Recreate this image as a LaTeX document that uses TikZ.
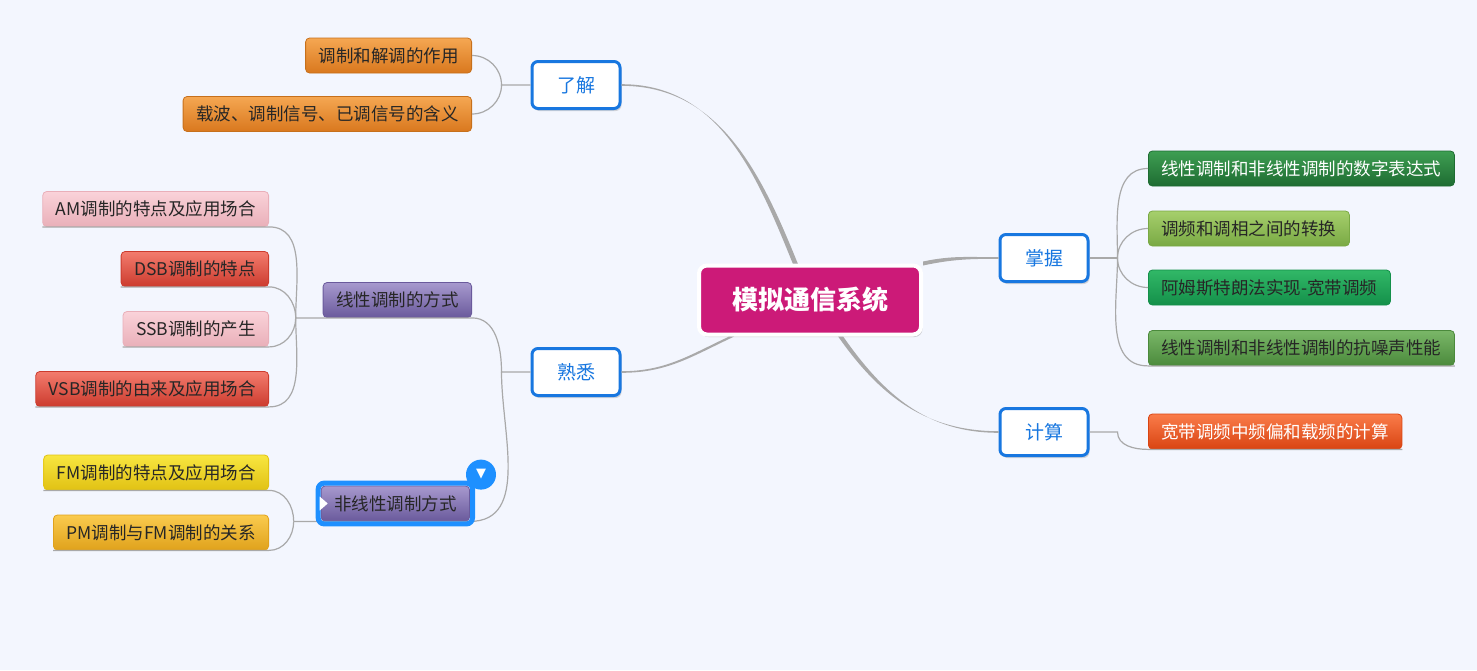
\documentclass[tikz,border=0pt]{standalone}
\usepackage{fontspec}
\newfontfamily\cjk{Noto Sans CJK SC}
\newfontfamily\symfont{DejaVu Sans}
\usetikzlibrary{shadows,fit}

\definecolor{bgcol}{HTML}{F3F6FE}
\definecolor{linkcol}{HTML}{A9A9A9}
\definecolor{topicblue}{HTML}{1877E0}
\definecolor{selblue}{HTML}{1E90FF}
\definecolor{rootcol}{HTML}{CC1A78}
\definecolor{orTop}{HTML}{F5A752}\definecolor{orBot}{HTML}{D9781E}\definecolor{orLine}{HTML}{C6701C}
\definecolor{pkTop}{HTML}{FAD3D9}\definecolor{pkBot}{HTML}{E9AFB9}
\definecolor{rdTop}{HTML}{F37C6E}\definecolor{rdBot}{HTML}{CC3B2E}
\definecolor{puTop}{HTML}{A799CE}\definecolor{puBot}{HTML}{6A5A9C}
\definecolor{yeTop}{HTML}{F8E640}\definecolor{yeBot}{HTML}{E1C214}
\definecolor{goTop}{HTML}{FACB4E}\definecolor{goBot}{HTML}{E0A21C}
\definecolor{dgTop}{HTML}{3E9E52}\definecolor{dgBot}{HTML}{1E6C32}
\definecolor{lgTop}{HTML}{A6CF6C}\definecolor{lgBot}{HTML}{79A944}
\definecolor{gnTop}{HTML}{31B867}\definecolor{gnBot}{HTML}{14904A}
\definecolor{mgTop}{HTML}{7AB768}\definecolor{mgBot}{HTML}{4B8A3C}
\definecolor{orRTop}{HTML}{FA7C4A}\definecolor{orRBot}{HTML}{D94412}

\tikzset{
  rootbox/.style={rounded corners=8pt, fill=rootcol, draw=white, line width=4pt,
    minimum width=222pt, minimum height=69pt, text=white,
    font=\cjk\bfseries\fontsize{26}{30}\selectfont,
    drop shadow={shadow xshift=1.5pt, shadow yshift=-2.5pt, opacity=0.35}},
  topic/.style={rounded corners=6pt, fill=white, draw=topicblue, line width=3pt,
    minimum width=88pt, minimum height=47pt, text=topicblue,
    font=\cjk\fontsize{19}{22}\selectfont,
    drop shadow={shadow xshift=1.5pt, shadow yshift=-2.5pt, opacity=0.3}},
  leaf/.style={rounded corners=4pt, minimum height=35pt, inner xsep=13pt, inner ysep=0pt,
    text=black!85, line width=0.8pt, font=\cjk\fontsize{17.5}{20}\selectfont},
  orange/.style={leaf, top color=orTop, bottom color=orBot, draw=orLine},
  pink/.style={leaf, top color=pkTop, bottom color=pkBot, draw=pkBot},
  red/.style={leaf, top color=rdTop, bottom color=rdBot, draw=rdBot},
  purple/.style={leaf, top color=puTop, bottom color=puBot, draw=puBot},
  yellow/.style={leaf, top color=yeTop, bottom color=yeBot, draw=yeBot},
  gold/.style={leaf, top color=goTop, bottom color=goBot, draw=goBot},
  dkgreen/.style={leaf, top color=dgTop, bottom color=dgBot, draw=dgBot, text=white},
  ltgreen/.style={leaf, top color=lgTop, bottom color=lgBot, draw=lgBot},
  green/.style={leaf, top color=gnTop, bottom color=gnBot, draw=gnBot},
  midgreen/.style={leaf, top color=mgTop, bottom color=mgBot, draw=mgBot},
  orangered/.style={leaf, top color=orRTop, bottom color=orRBot, draw=orRBot, text=white},
  trunk/.style={fill=linkcol},
  link/.style={draw=linkcol, line width=1.2pt},
  selring/.style={draw=selblue, line width=5pt, rounded corners=6pt, inner sep=2.5pt},
  togglebtn/.style={circle, fill=selblue, minimum size=30pt, inner sep=0pt, text=white,
    font=\symfont\fontsize{13}{13}\selectfont}
}

\begin{document}
\begin{tikzpicture}[x=1pt, y=1pt]
  \fill[bgcol] (0,0) rectangle (1477,-670);
  \useasboundingbox (0,0) rectangle (1477,-670);

  % centre and topics
  \node[rootbox] (root) at (810,-300) {模拟通信系统};
  \node[topic] (liaojie) at (576,-85) {了解};
  \node[topic] (shuxi) at (576,-372) {熟悉};
  \node[topic] (zhangwo) at (1044,-258) {掌握};
  \node[topic] (jisuan) at (1044,-432) {计算};

  % left leaves
  \node[orange, anchor=east] (zuoyong) at (472,-55.5) {调制和解调的作用};
  \node[orange, anchor=east] (hanyi) at (472,-114) {载波、调制信号、已调信号的含义};
  \node[purple, anchor=east] (xianxing) at (472,-300) {线性调制的方式};
  \node[purple, anchor=east, minimum width=143pt] (feixian) at (470,-503.5) {非线性调制方式};
  \node[pink, anchor=east] (am) at (269,-209) {AM调制的特点及应用场合};
  \node[red, anchor=east] (dsb) at (269,-269) {DSB调制的特点};
  \node[pink, anchor=east] (ssb) at (269,-329) {SSB调制的产生};
  \node[red, anchor=east] (vsb) at (269,-389) {VSB调制的由来及应用场合};
  \node[yellow, anchor=east] (fm) at (269,-472.5) {FM调制的特点及应用场合};
  \node[gold, anchor=east] (pm) at (269,-532.5) {PM调制与FM调制的关系};

  % right leaves
  \node[dkgreen, anchor=west] (biaoda) at (1148,-168.5) {线性调制和非线性调制的数字表达式};
  \node[ltgreen, anchor=west] (zhuanhuan) at (1148,-228.5) {调频和调相之间的转换};
  \node[green, anchor=west] (amstl) at (1148,-287.5) {阿姆斯特朗法实现-宽带调频};
  \node[midgreen, anchor=west] (kangzao) at (1148,-348) {线性调制和非线性调制的抗噪声性能};
  \node[orangered, anchor=west] (jsleaf) at (1148,-431.5) {宽带调频中频偏和载频的计算};

  % main branches, thick at the centre and thin at the topic
  \fill[trunk] ([xshift=-2.5pt]root.112) to[out=112,in=0] ([yshift=0.8pt]liaojie.east)
    -- ([yshift=-0.8pt]liaojie.east) to[out=0,in=112] ([xshift=2.5pt]root.112) -- cycle;
  \fill[trunk] ([xshift=-2.5pt]root.205) to[out=205,in=0] ([yshift=0.8pt]shuxi.east)
    -- ([yshift=-0.8pt]shuxi.east) to[out=0,in=205] ([xshift=2.5pt]root.205) -- cycle;
  \fill[trunk] ([yshift=2pt]root.north east) to[out=12,in=180] ([yshift=0.8pt]zhangwo.west)
    -- ([yshift=-0.8pt]zhangwo.west) to[out=180,in=12] ([yshift=-2pt]root.north east) -- cycle;
  \fill[trunk] ([xshift=-2.5pt]root.-50) to[out=-55,in=180] ([yshift=0.8pt]jisuan.west)
    -- ([yshift=-0.8pt]jisuan.west) to[out=180,in=-55] ([xshift=2.5pt]root.-50) -- cycle;

  % sub branches
  \draw[link] (liaojie.west) -- ++(-29,0) coordinate (lj) to[out=90,in=0] (zuoyong.east);
  \draw[link] (lj) to[out=-90,in=0] (hanyi.east);
  \draw[link] (shuxi.west) -- ++(-29,0) coordinate (sx)
    to[out=90,in=0] (xianxing.south east) -- (xianxing.south west) -- ++(-27,0) coordinate (xx);
  \draw[link] (sx) to[out=-90,in=0] (feixian.south east) -- (feixian.south west) -- ++(-27,0) coordinate (fx);
  \foreach \n/\a in {am/90,dsb/90,ssb/-90,vsb/-90}
    \draw[link] (xx) to[out=\a,in=0] (\n.south east) -- (\n.south west);
  \foreach \n/\a in {fm/90,pm/-90}
    \draw[link] (fx) to[out=\a,in=0] (\n.south east) -- (\n.south west);
  \draw[link] (zhangwo.east) -- ++(28,0) coordinate (zw);
  \foreach \n/\a in {biaoda/90,zhuanhuan/90,amstl/-90}
    \draw[link] (zw) to[out=\a,in=180] (\n.west);
  \draw[link] (zw) to[out=-90,in=180] (kangzao.south west) -- (kangzao.south east);
  \draw[link] (jisuan.east) -- ++(28,0) to[out=-90,in=180] (jsleaf.south west) -- (jsleaf.south east);

  % selection on the focused topic
  \node[selring, fit=(feixian)] (sel) {};
  \fill[white] ([xshift=-1pt]feixian.west) ++(0,7) -- ++(8,-7) -- ++(-8,-7) -- cycle;
  \node[togglebtn] (toggle) at ([shift={(6,6)}]sel.north east) {▼};
\end{tikzpicture}
\end{document}
